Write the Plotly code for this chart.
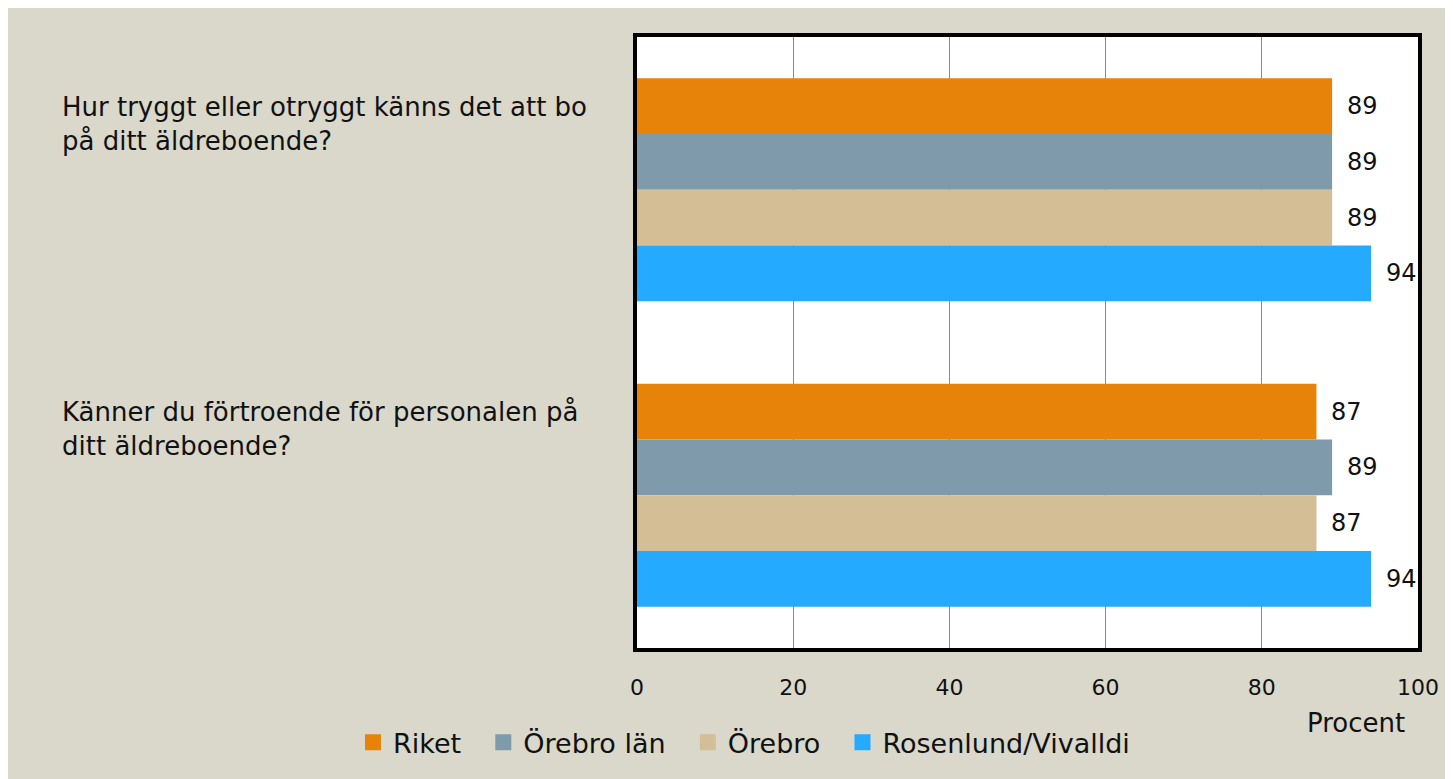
import plotly.graph_objects as go

categories = ["Hur tryggt eller otryggt känns det att bo<br>på ditt äldreboende?",
              "Känner du förtroende för personalen på<br>ditt äldreboende?"]
series_names = ["Riket", "Örebro län", "Örebro", "Rosenlund/Vivalldi"]
riket = [89, 87]
orebro_lan = [89, 89]
orebro = [89, 87]
rosenlund = [94, 94]
tick_vals = [0, 20, 40, 60, 80, 100]

series_values = [riket, orebro_lan, orebro, rosenlund]
colors = ["#E8830A", "#7F9AAB", "#D3BE96", "#24AAFF"]
FONT = "DejaVu Sans"
OFF = 8  # page body margin
W, H = 1453 - OFF, 779 - OFF
L, T = 637 - OFF, 37 - OFF
PR, PB = 1418 - OFF, 650 - OFF
R, B = W - PR, H - PB
PW, PH = PR - L, PB - T
BG = "#D9D8CB"
bargap = 0.27


def px_x(x):
    return (x - OFF - L) / PW


def px_y(y):
    return (PB - (y - OFF)) / PH


fig = go.Figure()
for name, vals, col in zip(series_names, series_values, colors):
    fig.add_trace(go.Bar(y=list(range(len(categories))), x=vals, name=name, orientation="h",
                         legendgroup=name, showlegend=False,
                         marker=dict(color=col, line=dict(width=0))))
# legend entries with larger square swatches
for k, (name, col) in enumerate(zip(series_names, colors)):
    label = name if k == len(series_names) - 1 else name + "\u00a0\u00a0"
    fig.add_trace(go.Scatter(x=[None], y=[None], mode="markers", name=label, legendgroup=name,
                             marker=dict(symbol="square", size=16, color=col, line=dict(width=0))))

annotations = []
n = len(series_names)
bw = (1 - bargap) / n
for i, vals in enumerate(series_values):
    for j, v in enumerate(vals):
        annotations.append(dict(x=v, y=j - (1 - bargap) / 2 + bw * (i + 0.5), xref="x", yref="y",
                                text=str(v), showarrow=False, xanchor="left", xshift=13,
                                font=dict(size=24, color="#111", family=FONT)))
for j, c in enumerate(categories):
    annotations.append(dict(x=px_x(60), y=j, xref="paper", yref="y",
                            text=c, showarrow=False, xanchor="left", yanchor="middle", yshift=66,
                            align="left", font=dict(size=26, color="#111", family=FONT)))
annotations.append(dict(x=px_x(1356), y=px_y(725), xref="paper", yref="paper",
                        text="Procent", showarrow=False, xanchor="center", yanchor="middle",
                        font=dict(size=26, color="#111", family=FONT)))

fig.update_layout(
    width=W, height=H, barmode="group", bargap=bargap, bargroupgap=0,
    paper_bgcolor=BG, plot_bgcolor="white",
    margin=dict(l=L, r=R, t=T, b=B),
    font=dict(family=FONT, size=22, color="#111"),
    showlegend=True,
    legend=dict(orientation="h", x=px_x(353), xanchor="left",
                y=px_y(745), yanchor="middle",
                font=dict(size=27, family=FONT, color="#111"), bgcolor="rgba(0,0,0,0)",
                itemwidth=30, tracegroupgap=0, traceorder="normal"),
    xaxis=dict(range=[0, 100], tickvals=tick_vals, showgrid=True, gridcolor="#8C8C8C", gridwidth=1,
               showline=True, linecolor="black", linewidth=4, mirror=True, zeroline=False,
               ticks="", ticklabelstandoff=17, tickfont=dict(size=22, family=FONT, color="#111")),
    yaxis=dict(range=[1.5, -0.5], showticklabels=False, showgrid=False, zeroline=False,
               showline=True, linecolor="black", linewidth=4, mirror=True, ticks=""),
    annotations=annotations,
)
fig.write_html("out.html")
